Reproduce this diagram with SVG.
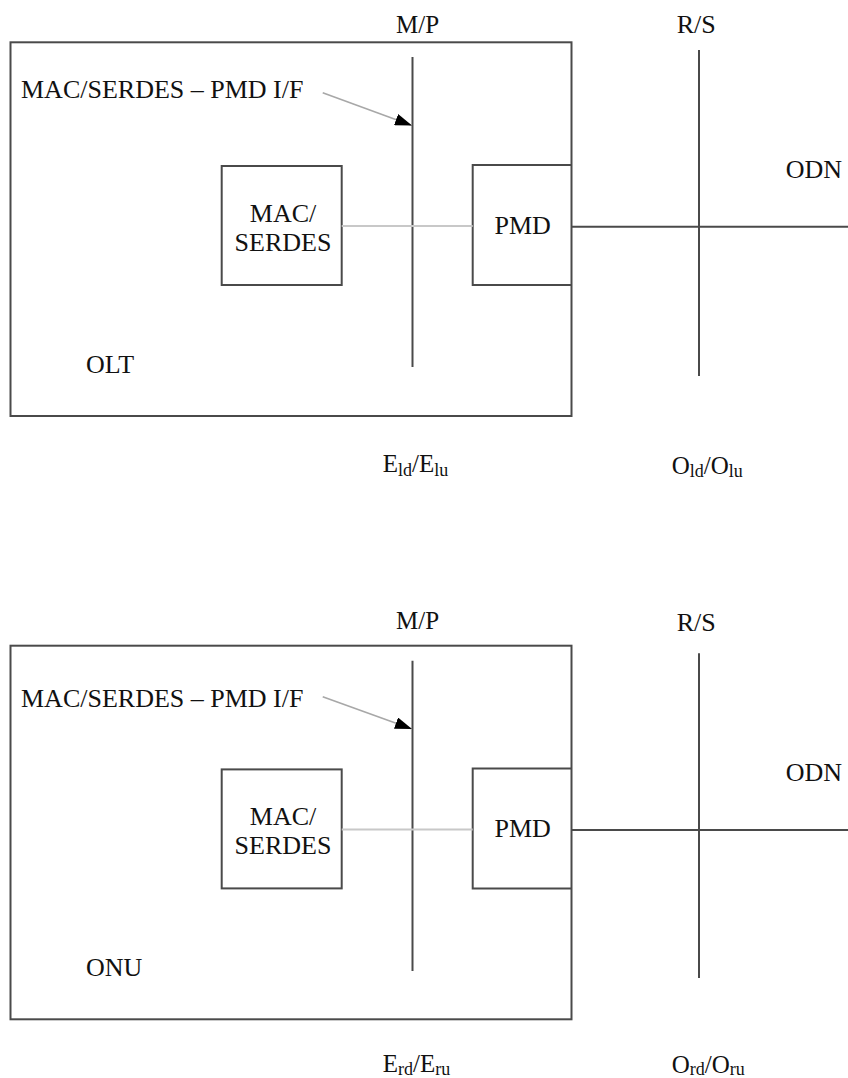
<svg xmlns="http://www.w3.org/2000/svg" width="848" height="1078" viewBox="0 0 848 1078" font-family="'Liberation Serif', 'DejaVu Serif', serif">
<style>
  text { font-family: "Liberation Serif", "DejaVu Serif", serif; font-size: 26px; fill: #111; }
  .s { font-size: 18px; }
  .ln { stroke: #4a4a4a; stroke-width: 2; fill: none; }
  .box { stroke: #4a4a4a; stroke-width: 2; fill: none; }
  .lt { stroke: #c8c8c8; stroke-width: 2; fill: none; }
  .ar { stroke: #a8a8a8; stroke-width: 1.6; fill: none; marker-end: url(#ah); }
</style>
<defs>
  <marker id="ah" markerUnits="userSpaceOnUse" markerWidth="17" markerHeight="12" refX="17" refY="6" orient="auto">
    <path d="M0,0 L17,6 L0,12 z" fill="#000"/>
  </marker>
</defs>
<rect width="848" height="1078" fill="#fff"/>

<!-- Top: OLT -->
<g id="olt">
  <rect class="box" x="10.5" y="42.3" width="561" height="373.7"/>
  <text x="86" y="372.7" font-size="24">OLT</text>
</g>
<g id="olt-mac">
  <rect class="box" x="221.7" y="166" width="120" height="119"/>
  <text x="283" y="221.7" text-anchor="middle">MAC/</text>
  <text x="283" y="250.7" text-anchor="middle">SERDES</text>
</g>
<g id="olt-pmd">
  <path class="box" d="M571.5,165 H472.7 V285 H571.5"/>
  <text x="522.7" y="234" text-anchor="middle">PMD</text>
</g>
<g id="olt-mp">
  <line class="ln" x1="412.5" y1="57" x2="412.5" y2="367"/>
  <text x="417.5" y="32.7" text-anchor="middle" style="font-size:25px">M/P</text>
  <text x="382.7" y="472.3" style="font-size:25px">E<tspan class="s" dy="4">ld</tspan><tspan dy="-4">/E</tspan><tspan class="s" dy="4">lu</tspan></text>
</g>
<g id="olt-rs">
  <line class="ln" x1="699" y1="50" x2="699" y2="376"/>
  <text x="696.3" y="32.7" text-anchor="middle">R/S</text>
  <text x="671.7" y="474.3" style="font-size:25px">O<tspan class="s" dy="3">ld</tspan><tspan dy="-3">/O</tspan><tspan class="s" dy="3">lu</tspan></text>
</g>
<g id="olt-odn">
  <text x="842" y="178.3" text-anchor="end">ODN</text>
</g>
<g id="olt-if">
  <text x="21" y="98.3">MAC/SERDES – PMD I/F</text>
</g>
<g id="connectors-top">
  <line class="lt" x1="341.7" y1="226" x2="472.7" y2="226"/>
  <line class="ln" x1="571.5" y1="226.7" x2="848" y2="226.7"/>
  <line class="ar" x1="322.7" y1="92.7" x2="412" y2="125.5"/>
</g>

<!-- Bottom: ONU -->
<g id="onu">
  <rect class="box" x="10.5" y="645.7" width="561" height="373.6"/>
  <text x="86" y="975.7" font-size="24">ONU</text>
</g>
<g id="onu-mac">
  <rect class="box" x="221.7" y="769.4" width="120" height="119"/>
  <text x="283" y="824.7" text-anchor="middle">MAC/</text>
  <text x="283" y="853.7" text-anchor="middle">SERDES</text>
</g>
<g id="onu-pmd">
  <path class="box" d="M571.5,768.4 H472.7 V888.4 H571.5"/>
  <text x="522.7" y="837" text-anchor="middle">PMD</text>
</g>
<g id="onu-mp">
  <line class="ln" x1="412.5" y1="660.7" x2="412.5" y2="971"/>
  <text x="417.5" y="629.3" text-anchor="middle" style="font-size:25px">M/P</text>
  <text x="382.7" y="1071.5" style="font-size:25px">E<tspan class="s" dy="3">rd</tspan><tspan dy="-3">/E</tspan><tspan class="s" dy="3">ru</tspan></text>
</g>
<g id="onu-rs">
  <line class="ln" x1="699" y1="653.3" x2="699" y2="978"/>
  <text x="696.3" y="631" text-anchor="middle">R/S</text>
  <text x="671.7" y="1072.5" style="font-size:25px">O<tspan class="s" dy="2.5">rd</tspan><tspan dy="-2.5">/O</tspan><tspan class="s" dy="2.5">ru</tspan></text>
</g>
<g id="onu-odn">
  <text x="842" y="781.3" text-anchor="end">ODN</text>
</g>
<g id="onu-if">
  <text x="21" y="706.5">MAC/SERDES – PMD I/F</text>
</g>
<g id="connectors-bottom">
  <line class="lt" x1="341.7" y1="829.4" x2="472.7" y2="829.4"/>
  <line class="ln" x1="571.5" y1="830.1" x2="848" y2="830.1"/>
  <line class="ar" x1="322.7" y1="696.7" x2="412" y2="728.9"/>
</g>
</svg>
